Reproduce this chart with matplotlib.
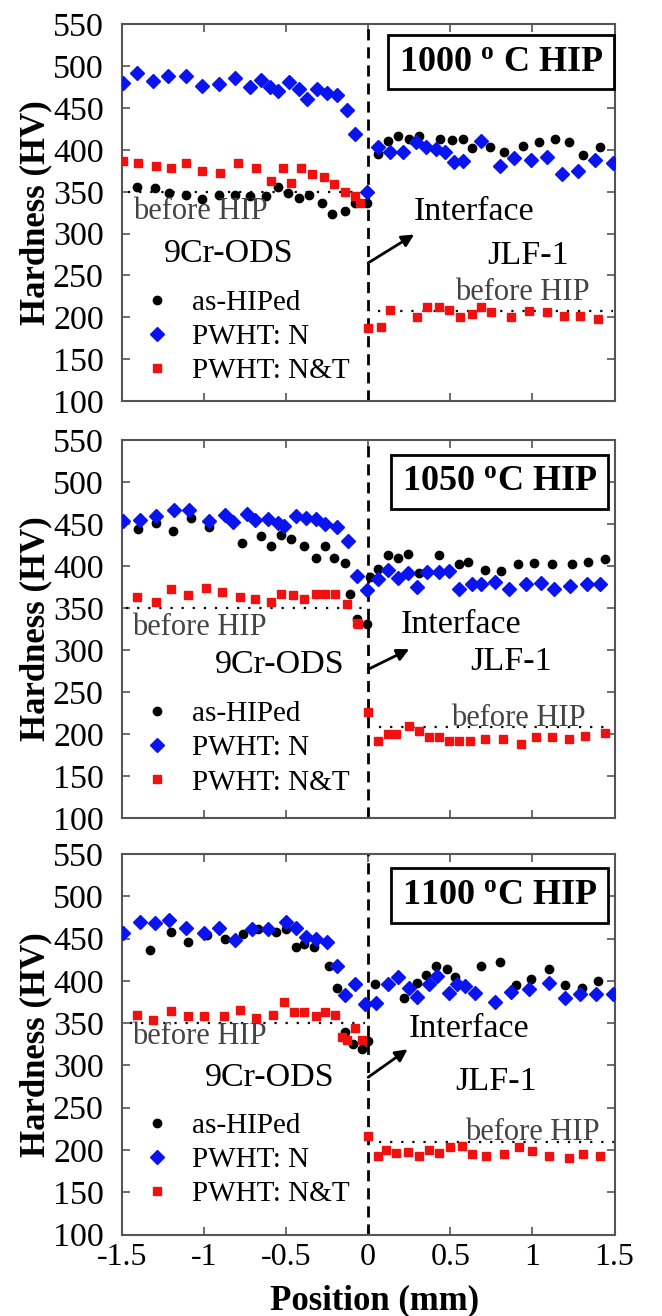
import matplotlib
matplotlib.use("Agg")
import matplotlib.pyplot as plt

plt.rcParams['font.family'] = ['Liberation Serif', 'DejaVu Serif']
plt.rcParams['mathtext.fontset'] = 'custom'
plt.rcParams['mathtext.rm'] = 'Liberation Serif'
plt.rcParams['mathtext.bf'] = 'Liberation Serif:bold'
plt.rcParams['mathtext.it'] = 'Liberation Serif:italic'

# ---------------- data ----------------
panel_titles = ["1000 $^{\\mathbf{o}}$ C HIP", "1050 $^{\\mathbf{o}}$C HIP", "1100 $^{\\mathbf{o}}$C HIP"]
series_labels = ["as-HIPed", "PWHT: N", "PWHT: N&T"]
y_ticks = [100, 150, 200, 250, 300, 350, 400, 450, 500, 550]
x_ticks = [-1.5, -1, -0.5, 0, 0.5, 1, 1.5]
x_tick_labels = ["-1.5", "-1", "-0.5", "0", "0.5", "1", "1.5"]

# 1000 C HIP
p1_hip_x = [-1.41, -1.30, -1.21, -1.11, -1.01, -0.91, -0.81, -0.72, -0.62, -0.55, -0.49, -0.42, -0.36, -0.28, -0.22, -0.14, -0.08, -0.01,
            0.06, 0.12, 0.18, 0.25, 0.31, 0.44, 0.51, 0.58, 0.63, 0.74, 0.83, 0.94, 1.04, 1.14, 1.22, 1.31, 1.41]
p1_hip_y = [356, 354, 349, 346, 341, 346, 346, 345, 345, 356, 348, 343, 346, 337, 323, 327, 337, 337,
            395, 411, 417, 413, 417, 413, 412, 413, 402, 403, 398, 405, 410, 413, 410, 394, 403]
p1_n_x = [-1.49, -1.41, -1.31, -1.22, -1.11, -1.01, -0.91, -0.81, -0.72, -0.65, -0.60, -0.55, -0.48, -0.42, -0.37, -0.31, -0.25, -0.19, -0.13, -0.08, -0.01,
          0.06, 0.13, 0.21, 0.29, 0.35, 0.41, 0.47, 0.52, 0.58, 0.69, 0.80, 0.89, 0.99, 1.09, 1.18, 1.28, 1.38, 1.49]
p1_n_y = [480, 492, 482, 488, 488, 477, 479, 486, 475, 484, 475, 470, 481, 473, 461, 473, 468, 466, 448, 419, 350,
          403, 397, 397, 409, 403, 401, 398, 386, 387, 411, 381, 390, 388, 392, 371, 375, 388, 384]
p1_nt_x = [-1.49, -1.40, -1.29, -1.20, -1.11, -1.01, -0.90, -0.79, -0.68, -0.59, -0.52, -0.47, -0.41, -0.34, -0.27, -0.21, -0.14, -0.08, -0.05,
           0.0, 0.08, 0.13, 0.30, 0.36, 0.43, 0.49, 0.56, 0.63, 0.69, 0.75, 0.87, 0.98, 1.09, 1.19, 1.29, 1.40]
p1_nt_y = [387, 385, 381, 379, 385, 375, 373, 384, 379, 363, 379, 361, 379, 371, 368, 359, 350, 345, 337,
           187, 189, 209, 200, 212, 212, 209, 200, 204, 212, 206, 200, 208, 206, 202, 202, 198]

# 1050 C HIP
p2_hip_x = [-1.40, -1.29, -1.19, -1.08, -0.97, -0.77, -0.65, -0.59, -0.53, -0.47, -0.39, -0.32, -0.26, -0.21, -0.14, -0.11, -0.07, -0.01,
            0.01, 0.06, 0.12, 0.18, 0.24, 0.31, 0.43, 0.55, 0.61, 0.71, 0.81, 0.91, 1.01, 1.12, 1.24, 1.34, 1.44]
p2_hip_y = [444, 451, 442, 457, 446, 427, 436, 424, 437, 432, 424, 409, 424, 409, 404, 367, 337, 331,
            387, 396, 413, 409, 414, 392, 413, 402, 405, 395, 394, 402, 403, 402, 402, 405, 408]
p2_n_x = [-1.49, -1.39, -1.29, -1.18, -1.09, -0.97, -0.87, -0.82, -0.74, -0.69, -0.61, -0.55, -0.51, -0.44, -0.38, -0.32, -0.26, -0.19, -0.12, -0.07, -0.01,
          0.06, 0.12, 0.18, 0.24, 0.30, 0.36, 0.43, 0.49, 0.55, 0.63, 0.69, 0.77, 0.86, 0.96, 1.05, 1.13, 1.23, 1.33, 1.41]
p2_n_y = [453, 455, 459, 467, 467, 454, 461, 452, 462, 455, 456, 451, 447, 460, 457, 456, 450, 446, 430, 388, 371,
          384, 395, 386, 392, 375, 393, 393, 394, 372, 378, 379, 381, 372, 379, 380, 372, 376, 379, 378]
p2_nt_x = [-1.41, -1.29, -1.20, -1.10, -0.99, -0.89, -0.78, -0.69, -0.59, -0.53, -0.46, -0.39, -0.32, -0.26, -0.20, -0.13, -0.07, -0.06,
           0.0, 0.06, 0.12, 0.17, 0.25, 0.31, 0.37, 0.43, 0.49, 0.55, 0.62, 0.71, 0.82, 0.93, 1.02, 1.12, 1.22, 1.32, 1.44]
p2_nt_y = [363, 357, 372, 365, 374, 369, 363, 361, 357, 367, 365, 361, 367, 367, 367, 355, 332, 331,
           226, 192, 200, 200, 210, 204, 196, 196, 192, 192, 192, 194, 194, 188, 196, 196, 194, 198, 201]

# 1100 C HIP
p3_hip_x = [-1.33, -1.20, -1.10, -0.98, -0.87, -0.76, -0.67, -0.56, -0.50, -0.44, -0.39, -0.33, -0.24, -0.19, -0.14, -0.09, -0.04, 0.0,
            0.04, 0.22, 0.30, 0.35, 0.41, 0.48, 0.53, 0.69, 0.80, 0.90, 0.99, 1.10, 1.20, 1.30, 1.40]
p3_hip_y = [437, 458, 446, 454, 450, 455, 461, 458, 461, 440, 444, 440, 418, 391, 340, 325, 319, 329,
            396, 380, 397, 407, 417, 414, 405, 417, 422, 395, 402, 414, 395, 391, 400]
p3_n_x = [-1.49, -1.39, -1.30, -1.21, -1.11, -1.00, -0.91, -0.81, -0.71, -0.61, -0.50, -0.44, -0.38, -0.32, -0.25, -0.19, -0.14, -0.08, -0.02,
          0.05, 0.12, 0.18, 0.25, 0.30, 0.37, 0.42, 0.49, 0.54, 0.59, 0.65, 0.77, 0.87, 0.98, 1.10, 1.20, 1.29, 1.39, 1.49]
p3_n_y = [456, 469, 468, 472, 463, 456, 463, 448, 461, 461, 469, 462, 452, 450, 446, 417, 383, 396, 373,
          374, 396, 405, 392, 381, 396, 406, 386, 396, 394, 386, 375, 387, 390, 397, 380, 384, 384, 384]
p3_nt_x = [-1.41, -1.31, -1.20, -1.10, -1.00, -0.88, -0.78, -0.68, -0.58, -0.51, -0.45, -0.39, -0.32, -0.26, -0.20, -0.16, -0.13, -0.08, -0.04,
           0.0, 0.06, 0.11, 0.17, 0.24, 0.31, 0.37, 0.43, 0.50, 0.57, 0.63, 0.72, 0.83, 0.92, 1.00, 1.10, 1.22, 1.31, 1.41]
p3_nt_y = [359, 354, 364, 358, 358, 358, 365, 356, 360, 375, 363, 363, 358, 363, 360, 333, 330, 344, 330,
           216, 193, 200, 196, 198, 193, 200, 197, 203, 205, 195, 193, 195, 204, 199, 193, 191, 195, 193]

# "before HIP" reference levels (left: 9Cr-ODS, right: JLF-1)
before_left = [350, 350, 350]
before_right = [207, 208, 210]

# ---------------- layout / style ----------------
panels = [
    dict(hip=(p1_hip_x, p1_hip_y), n=(p1_n_x, p1_n_y), nt=(p1_nt_x, p1_nt_y),
         pos=[0.184, 0.6953, 0.7443, 0.2861],
         box=(0.81, 505), bl_left=(-1.43, 326), interface=(0.28, 326), ods=(-0.85, 276), jlf=(0.975, 273),
         bl_right=(0.94, 230), arrow=((0.0, 265), (0.28, 299)), dl=(-1.46, -0.06), dr=(0.06, 1.49), leg_y=0.17),
    dict(hip=(p2_hip_x, p2_hip_y), n=(p2_n_x, p2_n_y), nt=(p2_nt_x, p2_nt_y),
         pos=[0.184, 0.3784, 0.7443, 0.2873],
         box=(0.80, 500), bl_left=(-1.44, 327), interface=(0.20, 330), ods=(-0.54, 282), jlf=(0.87, 286),
         bl_right=(0.915, 219), arrow=((0.0, 277), (0.25, 301)), dl=(-1.475, -0.02), dr=(0.067, 1.48), leg_y=0.185),
    dict(hip=(p3_hip_x, p3_hip_y), n=(p3_n_x, p3_n_y), nt=(p3_nt_x, p3_nt_y),
         pos=[0.184, 0.0619, 0.7443, 0.2892],
         box=(0.80, 501), bl_left=(-1.44, 334), interface=(0.25, 343), ods=(-0.60, 285), jlf=(0.78, 281),
         bl_right=(1.0, 221), arrow=((0.0, 286), (0.24, 319)), dl=(-1.45, -0.02), dr=(0.067, 1.5), leg_y=0.196),
]

fig = plt.figure(figsize=(6.62, 13.16), dpi=100)
spine_col = '#555555'

for i, p in enumerate(panels):
    ax = fig.add_axes(p['pos'])
    hb, = ax.plot(*p['hip'], linestyle='none', marker='o', ms=6, color='black', mec='black', zorder=3)
    hn, = ax.plot(*p['n'], linestyle='none', marker='D', ms=7, color='#0a14f0', mec='#0a14f0', zorder=3)
    hr, = ax.plot(*p['nt'], linestyle='none', marker='s', ms=6.3, color='#f01010', mec='#f01010', zorder=3)

    ax.axvline(0, color='black', lw=2, linestyle=(0, (4, 2.5)), zorder=2)
    ax.plot(list(p['dl']), [before_left[i]] * 2, color='black', lw=1.6, linestyle=(0, (1, 4)), zorder=2)
    ax.plot(list(p['dr']), [before_right[i]] * 2, color='black', lw=1.6, linestyle=(0, (1, 4)), zorder=2)

    ax.set_xlim(-1.5, 1.5)
    ax.set_ylim(100, 550)
    ax.set_yticks(y_ticks)
    ax.set_xticks(x_ticks)
    if i == 2:
        ax.set_xticklabels(x_tick_labels)
        ax.set_xlabel("Position (mm)", fontsize=25, fontweight='bold')
        ax.xaxis.set_label_coords(0.512, -0.13)
    else:
        ax.set_xticklabels([])
    ax.tick_params(direction='in', top=True, right=True, length=6, width=1.2, color=spine_col,
                   labelsize=23, pad=6)
    ax.tick_params(axis='y', pad=13, labelsize=24.5)
    for s in ax.spines.values():
        s.set_color(spine_col)
        s.set_linewidth(1.5)
    ax.set_ylabel("Hardness (HV)", fontsize=25, fontweight='bold')
    ax.yaxis.set_label_coords(-0.142, 0.5)

    ax.text(*p['box'], panel_titles[i], fontsize=26, fontweight='bold', ha='center', va='center',
            bbox=dict(boxstyle='square,pad=0.3', fc='white', ec='black', lw=2), zorder=5)
    ax.text(*p['bl_left'], "before HIP", fontsize=22, color='#444444', ha='left', va='center', zorder=4)
    ax.text(*p['interface'], "Interface", fontsize=24.5, ha='left', va='center', zorder=4)
    ax.text(*p['ods'], "9Cr-ODS", fontsize=24.5, ha='center', va='center', zorder=4)
    ax.text(*p['jlf'], "JLF-1", fontsize=24.5, ha='center', va='center', zorder=4)
    ax.text(*p['bl_right'], "before HIP", fontsize=22, color='#444444', ha='center', va='center', zorder=4)
    ax.annotate("", xy=p['arrow'][1], xytext=p['arrow'][0],
                arrowprops=dict(arrowstyle='-|>', color='black', lw=2, mutation_scale=18, shrinkA=0, shrinkB=0))

    ax.legend([hb, hn, hr], series_labels, loc='center left', bbox_to_anchor=(0.041, p['leg_y']),
              frameon=False, fontsize=21, handlelength=1.0, handletextpad=0.7, labelspacing=0.27,
              borderpad=0, borderaxespad=0)

fig.savefig("out.png", dpi=100)
